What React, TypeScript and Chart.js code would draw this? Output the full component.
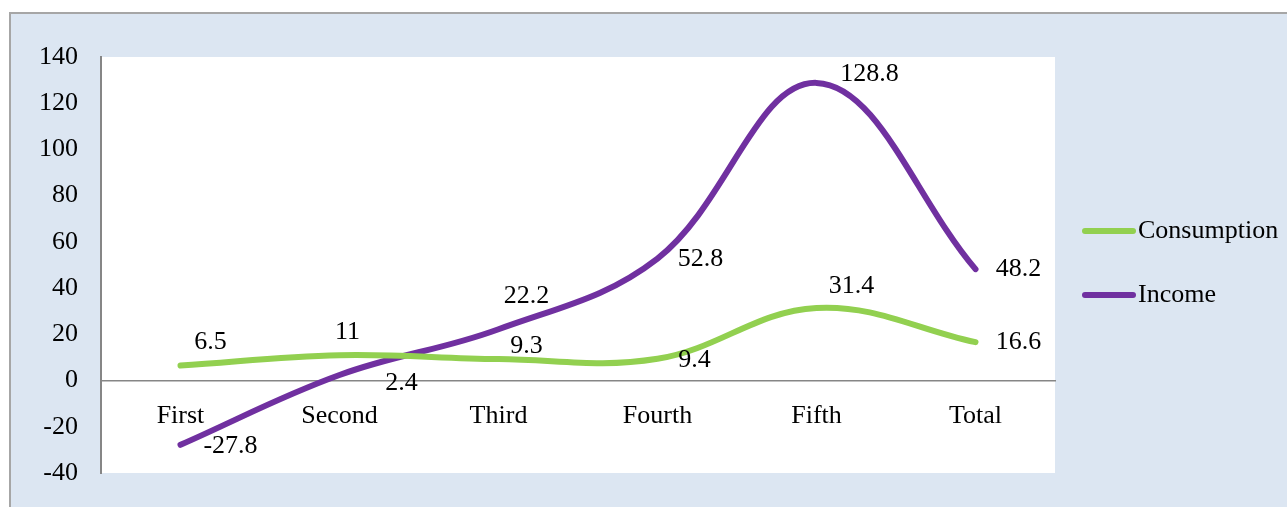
import React, { useEffect, useRef } from "react";
import { Chart, registerables } from "chart.js";

Chart.register(...registerables);

const categories = ["First", "Second", "Third", "Fourth", "Fifth", "Total"];
const consumption = [6.5, 11, 9.3, 9.4, 31.4, 16.6];
const income = [-27.8, 2.4, 22.2, 52.8, 128.8, 48.2];
const yTicksMin = -40;
const yTicksMax = 140;
const yStep = 20;

// label offsets (px) relative to each point, as placed in the original
const consumptionLabelOffsets = [[30, -23], [8, -23], [28, -13], [37, 1], [35, -22], [43, 0]];
const incomeLabelOffsets = [[50, 1], [62, 8], [28, -33], [43, 1], [53, -9], [43, 0]];

const GREEN = "#92D050";
const PURPLE = "#7030A0";
const FONT = "'Liberation Serif', 'Times New Roman', serif";
const FONT_SIZE = 26;

const bgPlugin = {
  id: "bgPlugin",
  beforeDraw(chart: any) {
    const { ctx, width, height, chartArea } = chart;
    ctx.save();
    ctx.fillStyle = "#ffffff";
    ctx.fillRect(0, 0, width, height);
    ctx.fillStyle = "#A6A6A6";
    ctx.fillRect(9, 12, 2, height - 12);
    ctx.fillRect(9, 12, width - 9, 2);
    ctx.fillStyle = "#DCE6F2";
    ctx.fillRect(11, 14, width - 11, height - 14);
    ctx.fillStyle = "#ffffff";
    ctx.fillRect(chartArea.left, chartArea.top, chartArea.right - chartArea.left, chartArea.bottom - chartArea.top);
    ctx.restore();
  },
};

const labelPlugin = {
  id: "labelPlugin",
  afterDatasetsDraw(chart: any) {
    const { ctx } = chart;
    ctx.save();
    ctx.font = `${FONT_SIZE}px ${FONT}`;
    ctx.fillStyle = "#000";
    ctx.textAlign = "center";
    ctx.textBaseline = "middle";
    chart.data.datasets.forEach((ds: any, di: number) => {
      const meta = chart.getDatasetMeta(di);
      const offs = ds.labelOffsets || [];
      meta.data.forEach((pt: any, i: number) => {
        const o = offs[i] || [0, 0];
        ctx.fillText(String(ds.data[i]), pt.x + o[0], pt.y + o[1]);
      });
    });
    ctx.restore();
  },
};

const legendPlugin = {
  id: "customLegend",
  afterDraw(chart: any) {
    const { ctx } = chart;
    const items = chart.data.datasets;
    const startX = 1085;
    const lineLen = 48;
    const textX = 1138;
    const ys = [231, 295];
    ctx.save();
    ctx.font = `${FONT_SIZE}px ${FONT}`;
    ctx.textBaseline = "middle";
    ctx.textAlign = "left";
    items.forEach((ds: any, i: number) => {
      const y = ys[i];
      ctx.strokeStyle = ds.borderColor;
      ctx.lineWidth = 6;
      ctx.lineCap = "round";
      ctx.beginPath();
      ctx.moveTo(startX, y);
      ctx.lineTo(startX + lineLen, y);
      ctx.stroke();
      ctx.fillStyle = "#000";
      ctx.fillText(ds.label, textX, y);
    });
    ctx.restore();
  },
};

export default function App() {
  const ref = useRef<HTMLCanvasElement | null>(null);
  useEffect(() => {
    if (!ref.current) return;
    const chart = new Chart(ref.current, {
      type: "line",
      data: {
        labels: categories,
        datasets: [
          {
            label: "Consumption",
            data: consumption,
            borderColor: GREEN,
            backgroundColor: GREEN,
            borderWidth: 6,
            borderCapStyle: "round",
            borderJoinStyle: "round",
            pointRadius: 0,
            tension: 0.38,
            fill: false,
            labelOffsets: consumptionLabelOffsets,
          } as any,
          {
            label: "Income",
            data: income,
            borderColor: PURPLE,
            backgroundColor: PURPLE,
            borderWidth: 6,
            borderCapStyle: "round",
            borderJoinStyle: "round",
            pointRadius: 0,
            tension: 0.38,
            fill: false,
            labelOffsets: incomeLabelOffsets,
          } as any,
        ],
      },
      options: {
        responsive: false,
        animation: false,
        devicePixelRatio: 1,
        layout: { padding: { left: 0, top: 57, right: 232, bottom: 34 } },
        plugins: {
          legend: { display: false },
          tooltip: { enabled: false },
          title: { display: false },
        },
        scales: {
          x: {
            type: "category",
            offset: true,
            position: { y: 0 } as any,
            grid: { display: false, drawTicks: false },
            border: { display: true, color: "#868686", width: 1.5 },
            ticks: {
              color: "#000",
              font: { family: FONT, size: FONT_SIZE },
              padding: 20,
              maxRotation: 0,
              autoSkip: false,
            },
            afterFit(scale: any) {
              scale.height = 0;
              scale.paddingTop = 0;
              scale.paddingBottom = 0;
              scale.paddingLeft = 0;
              scale.paddingRight = 0;
            },
          },
          y: {
            min: yTicksMin,
            max: yTicksMax,
            grid: { display: false, drawTicks: false },
            border: { display: true, color: "#868686", width: 2 },
            ticks: {
              stepSize: yStep,
              color: "#000",
              font: { family: FONT, size: FONT_SIZE },
              padding: 23,
            },
            afterFit(scale: any) {
              scale.width = 101;
              scale.paddingTop = 0;
              scale.paddingBottom = 0;
            },
          },
        },
      } as any,
      plugins: [bgPlugin, labelPlugin, legendPlugin],
    });
    return () => chart.destroy();
  }, []);
  return (
    <div style={{ position: "absolute", left: 0, top: 0, width: 1287, height: 507 }}>
      <canvas ref={ref} width={1287} height={507} style={{ width: 1287, height: 507, display: "block" }} />
    </div>
  );
}
